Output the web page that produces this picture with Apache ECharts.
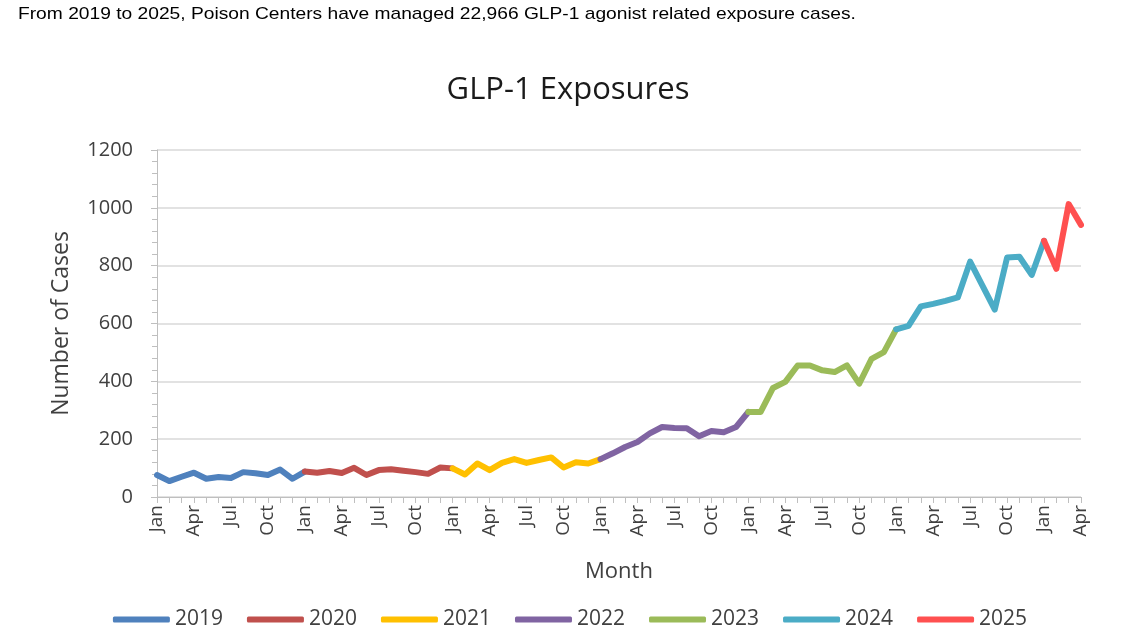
<!DOCTYPE html>
<html>
<head>
<meta charset="utf-8">
<script src="https://cdn.jsdelivr.net/npm/echarts@6/dist/echarts.min.js"></script>
<style>
    html, body { margin: 0; padding: 0; background: #fff; }
    #chart { width: 1140px; height: 641px; }
</style>
</head>
<body>
<div id="chart"></div>
<script>
// month labels, Jan 2019 .. Apr 2025
const monthNames = ['Jan', 'Feb', 'Mar', 'Apr', 'May', 'Jun', 'Jul', 'Aug', 'Sep', 'Oct', 'Nov', 'Dec'];
const months = [];
for (let i = 0; i < 76; i++) months.push(monthNames[i % 12]);

const years = ['2019', '2020', '2021', '2022', '2023', '2024', '2025'];
const colors = ['#4F81BD', '#C0504D', '#FFC000', '#8064A2', '#9BBB59', '#4BACC6', '#FF5050'];

// monthly exposure counts per year
const y2019 = [76, 55, 70, 84, 63, 69, 66, 86, 82, 76, 95, 63];
const y2020 = [88, 84, 90, 83, 101, 76, 93, 96, 91, 86, 80, 102];
const y2021 = [99, 78, 116, 93, 118, 131, 118, 128, 137, 102, 120, 116];
const y2022 = [131, 151, 173, 190, 220, 242, 239, 238, 210, 228, 224, 242];
const y2023 = [294, 294, 377, 398, 455, 455, 438, 432, 455, 392, 478, 501];
const y2024 = [580, 592, 659, 668, 678, 690, 814, 731, 648, 828, 831, 768];
const y2025 = [886, 789, 1013, 941];

const yearValues = [y2019, y2020, y2021, y2022, y2023, y2024, y2025];

// each year's line also runs on to next January so the lines join up
function buildSeriesData(idx) {
    const data = new Array(months.length).fill(null);
    const start = idx * 12;
    yearValues[idx].forEach((v, i) => data[start + i] = v);
    const next = yearValues[idx + 1];
    if (next) data[start + 12] = next[0];
    return data;
}

const chart = echarts.init(document.getElementById('chart'));

const textColor = '#404040';
const font = 'Open Sans';

chart.setOption({
    animation: false,
    color: colors,
    title: {
        text: 'GLP-1 Exposures',
        left: 563,
        textAlign: 'center',
        top: 70,
        textStyle: { fontFamily: font, fontSize: 31, fontWeight: 'normal', color: '#1a1a1a' }
    },
    graphic: [{
        type: 'text',
        left: 18,
        top: 6,
        style: {
            text: 'From 2019 to 2025, Poison Centers have managed 22,966 GLP-1 agonist related exposure cases.',
            font: '16px "Liberation Sans"',
            fill: '#000'
        },
        scaleX: 1.2,
        scaleY: 1.05
    }],
    legend: {
        bottom: 6,
        left: 'center',
        icon: 'roundRect',
        itemWidth: 57,
        itemHeight: 6,
        itemGap: 24,
        textStyle: { fontFamily: font, fontSize: 21, color: textColor },
        data: years
    },
    grid: { left: 157, right: 59, top: 150, bottom: 144 },
    xAxis: {
        type: 'category',
        data: months,
        boundaryGap: false,
        name: 'Month',
        nameLocation: 'middle',
        nameGap: 64,
        nameTextStyle: { fontFamily: font, fontSize: 22, color: textColor },
        axisLine: { lineStyle: { color: '#bfbfbf', width: 1 } },
        axisTick: { show: true, interval: 0, length: 6, lineStyle: { color: '#bfbfbf' } },
        axisLabel: { interval: 2, rotate: 90, margin: 8, fontFamily: font, fontSize: 19, color: textColor }
    },
    yAxis: {
        type: 'value',
        min: 0,
        max: 1200,
        interval: 200,
        name: 'Number of Cases',
        nameLocation: 'middle',
        nameGap: 84,
        nameTextStyle: { fontFamily: font, fontSize: 23, color: textColor },
        axisLine: { show: true, lineStyle: { color: '#bfbfbf' } },
        axisTick: { show: true, length: 6, lineStyle: { color: '#bfbfbf' } },
        minorTick: { show: true, splitNumber: 5, length: 5, lineStyle: { color: '#bfbfbf' } },
        splitLine: { lineStyle: { color: '#d9d9d9', width: 1.5 } },
        axisLabel: { margin: 24, fontFamily: font, fontSize: 20, color: textColor, formatter: v => String(v) }
    },
    series: years.map((y, i) => ({
        name: y,
        type: 'line',
        data: buildSeriesData(i),
        symbol: 'none',
        connectNulls: false,
        lineStyle: { width: 6, cap: 'round', join: 'round' }
    }))
});
</script>
</body>
</html>
